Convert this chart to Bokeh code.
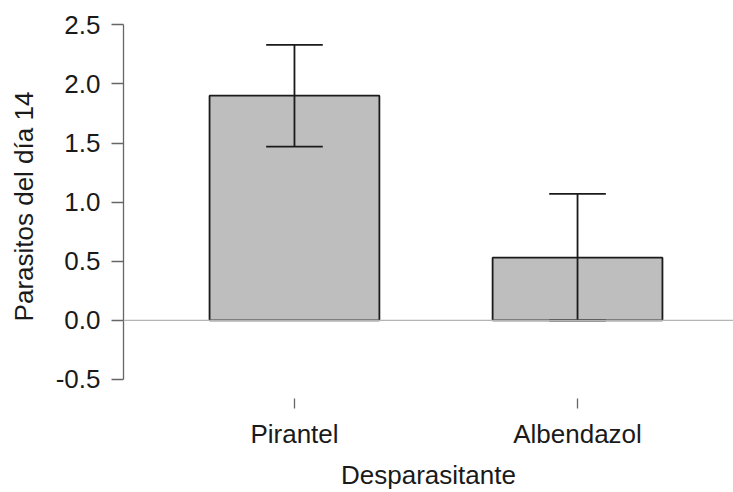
from bokeh.plotting import figure
from bokeh.models import FixedTicker, Range1d, Span, ColumnDataSource
from bokeh.embed import file_html
from bokeh.resources import INLINE

categories = ["Pirantel", "Albendazol"]
positions = [1, 2]
means = [1.90, 0.53]
lower = [1.47, 0.0]
upper = [2.33, 1.07]
y_ticks = [-0.5, 0.0, 0.5, 1.0, 1.5, 2.0, 2.5]
y_tick_labels = ["-0.5", "0.0", "0.5", "1.0", "1.5", "2.0", "2.5"]

FONT = "Liberation Sans"
FS = "26px"

p = figure(width=733, height=492, output_backend="svg", toolbar_location=None,
           x_range=Range1d(0.396, 2.551), y_range=Range1d(-0.661, 2.587),
           min_border_left=123, min_border_right=0, min_border_top=14, min_border_bottom=94)
p.outline_line_color = None
p.grid.grid_line_color = None
p.background_fill_color = "white"

src = ColumnDataSource(dict(x=positions, top=means, lo=lower, hi=upper,
                            cl=[v - 0.1 for v in positions], cr=[v + 0.1 for v in positions]))

p.add_layout(Span(location=0, dimension="width", line_color="#b4b4b4", line_width=1.2))
p.vbar(x="x", top="top", bottom=0, width=0.6, source=src,
       fill_color="#bebebe", line_color="#1a1a1a", line_width=1.8)
p.segment(x0="x", x1="x", y0="lo", y1="hi", source=src, line_color="#1a1a1a", line_width=1.8)
p.segment(x0="cl", x1="cr", y0="hi", y1="hi", source=src, line_color="#1a1a1a", line_width=1.8)
p.segment(x0="cl", x1="cr", y0="lo", y1="lo", source=src, line_color="#1a1a1a", line_width=1.8)

# y axis
ya = p.yaxis[0]
ya.ticker = FixedTicker(ticks=y_ticks)
ya.major_label_overrides = {t: s for t, s in zip(y_ticks, y_tick_labels)}
ya.bounds = (-0.5, 2.5)
ya.major_tick_in = 0
ya.major_tick_out = 12
ya.minor_tick_line_color = None
ya.axis_line_color = "#666666"
ya.major_tick_line_color = "#666666"
ya.axis_line_width = 1.3
ya.major_tick_line_width = 1.3
ya.major_label_text_font = FONT
ya.major_label_text_font_size = FS
ya.major_label_text_color = "#1a1a1a"
ya.major_label_standoff = 11
ya.axis_label = "Parasitos del día 14"
ya.axis_label_text_font = FONT
ya.axis_label_text_font_size = FS
ya.axis_label_text_font_style = "normal"
ya.axis_label_text_color = "#1a1a1a"
ya.axis_label_standoff = 14

# x axis
xa = p.xaxis[0]
xa.ticker = FixedTicker(ticks=positions)
xa.major_label_overrides = {pos: c for pos, c in zip(positions, categories)}
xa.axis_line_color = None
xa.major_tick_in = 0
xa.major_tick_out = 10
xa.minor_tick_line_color = None
xa.major_tick_line_color = "#666666"
xa.major_tick_line_width = 1.3
xa.major_label_text_font = FONT
xa.major_label_text_font_size = FS
xa.major_label_text_color = "#1a1a1a"
xa.major_label_standoff = 10
xa.axis_label = "Desparasitante"
xa.axis_label_text_font = FONT
xa.axis_label_text_font_size = FS
xa.axis_label_text_font_style = "normal"
xa.axis_label_text_color = "#1a1a1a"
xa.axis_label_standoff = 8

open("out.html", "w").write(file_html(p, INLINE))
